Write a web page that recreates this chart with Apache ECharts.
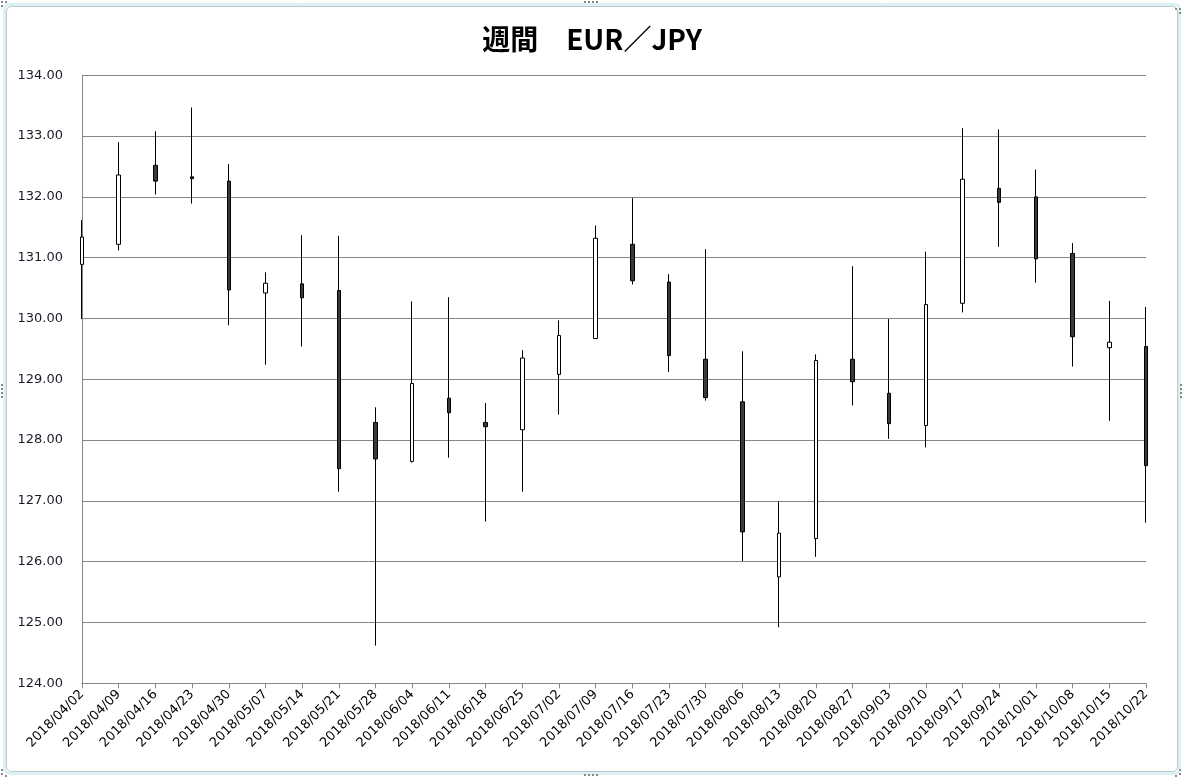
<!DOCTYPE html>
<html>
<head>
<meta charset="utf-8">
<script src="https://cdn.jsdelivr.net/npm/echarts@6/dist/echarts.min.js"></script>
<style>html,body{margin:0;padding:0;background:#fff;}#c{width:1184px;height:778px;}</style>
</head>
<body>
<div id="c"></div>
<script>
const categories = ['2018/04/02','2018/04/09','2018/04/16','2018/04/23','2018/04/30','2018/05/07','2018/05/14','2018/05/21','2018/05/28','2018/06/04','2018/06/11','2018/06/18','2018/06/25','2018/07/02','2018/07/09','2018/07/16','2018/07/23','2018/07/30','2018/08/06','2018/08/13','2018/08/20','2018/08/27','2018/09/03','2018/09/10','2018/09/17','2018/09/24','2018/10/01','2018/10/08','2018/10/15','2018/10/22'];
const openValues  = [130.89,131.22,132.52,132.33,132.26,130.42,130.57,130.46,128.29,127.65,128.69,128.29,128.17,129.08,129.67,131.22,130.60,129.33,128.63,125.75,126.38,129.33,128.77,128.24,130.25,132.14,132.00,131.07,129.52,129.54];
const closeValues = [131.34,132.36,132.26,132.30,130.47,130.58,130.34,127.53,127.69,128.93,128.45,128.22,129.35,129.72,131.32,130.62,129.39,128.70,126.49,126.47,129.31,128.96,128.27,130.23,132.29,131.91,130.98,129.70,129.61,127.58];
const lowValues   = [129.99,131.12,132.04,131.89,129.89,129.24,129.54,127.15,124.62,127.63,127.71,126.66,127.15,128.42,129.67,130.56,129.12,128.65,126.01,124.92,126.08,128.57,128.02,127.88,130.10,131.18,130.59,129.21,128.32,126.64];
const highValues  = [131.62,132.90,133.08,133.47,132.54,130.76,131.37,131.36,128.54,130.28,130.35,128.61,129.48,129.97,131.53,131.98,130.73,131.14,129.46,126.99,129.41,130.86,129.99,131.10,133.13,133.11,132.45,131.24,130.29,130.19];
const yTicks = {min: 124, max: 134, interval: 1};
const titleText = '週間　EUR／JPY';

const ohlc = categories.map((c, i) => [openValues[i], closeValues[i], lowValues[i], highValues[i]]);

const chart = echarts.init(document.getElementById('c'), null, {renderer: 'canvas'});
const dots = [];
function dot(x, y) { dots.push({type: 'rect', shape: {x: x, y: y, width: 2, height: 2}, style: {fill: '#8a8a8a'}, silent: true}); }
[584, 588, 592, 596].forEach(x => { dot(x, 1); dot(x, 774); });
[384, 388, 392, 396].forEach(y => { dot(1, y); dot(1180, y); });
dot(1, 1); dot(5, 1); dot(1, 5);
dot(1179, 8); dot(1179, 12); dot(1175, 8);
dot(1, 773); dot(1, 769); dot(5, 775);
dot(1179, 773); dot(1179, 769); dot(1175, 775);

chart.setOption({
  backgroundColor: '#ffffff',
  animation: false,
  title: {
    text: titleText,
    left: 'center',
    top: 20,
    textStyle: {fontFamily: '"Noto Sans CJK JP", sans-serif', fontSize: 28, fontWeight: 'bold', color: '#000'}
  },
  grid: {left: 82, right: 38, top: 75.3, bottom: 94.7, containLabel: false},
  xAxis: {
    type: 'category',
    data: categories,
    boundaryGap: false,
    axisLine: {show: true, lineStyle: {color: '#868686', width: 1}},
    axisTick: {show: true, length: 5, alignWithLabel: true, lineStyle: {color: '#868686'}},
    axisLabel: {rotate: 45, interval: 0, margin: 9, fontSize: 13, color: '#000', fontFamily: '"DejaVu Sans", sans-serif'},
    splitLine: {show: false}
  },
  yAxis: {
    type: 'value',
    min: yTicks.min, max: yTicks.max, interval: yTicks.interval,
    axisLine: {show: true, lineStyle: {color: '#868686', width: 1}},
    axisTick: {show: false},
    axisLabel: {margin: 19, fontSize: 13, color: '#1a1a2a', fontFamily: '"DejaVu Sans", sans-serif', formatter: v => v.toFixed(2)},
    splitLine: {show: true, lineStyle: {color: '#868686', width: 1}}
  },
  series: [{
    type: 'candlestick',
    data: ohlc,
    barWidth: 4,
    itemStyle: {color: '#ffffff', color0: '#3a3a3a', borderColor: '#000000', borderColor0: '#000000', borderWidth: 1}
  }],
  graphic: [
    {type: 'rect', shape: {x: 4.5, y: 4.5, width: 1175, height: 769, r: 5}, style: {fill: 'none', stroke: '#dcf1f4', lineWidth: 3}, silent: true, z: -1},
    {type: 'rect', shape: {x: 6.5, y: 6.5, width: 1171, height: 765, r: 5}, style: {fill: 'none', stroke: '#b9c8cc', lineWidth: 1}, silent: true}
  ].concat(dots)
});
</script>
</body>
</html>
